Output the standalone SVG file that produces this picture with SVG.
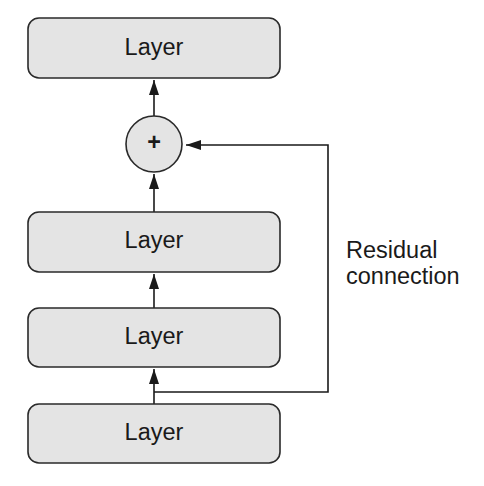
<svg xmlns="http://www.w3.org/2000/svg" width="484" height="486" viewBox="0 0 484 486">
<defs>
<style>
.box{fill:#e4e4e4;stroke:#2a2a2a;stroke-width:1.6}
.lbl{font-family:"Liberation Sans",Arial,sans-serif;font-size:23.5px;fill:#1a1a1a}
.ln{fill:none;stroke:#1a1a1a;stroke-width:1.6}
</style>
<marker id="ah2" viewBox="0 0 10 10" refX="10" refY="5" markerWidth="15" markerHeight="10" markerUnits="userSpaceOnUse" orient="auto" preserveAspectRatio="none">
<path d="M0,0 L10,5 L0,10 z" fill="#1a1a1a"/>
</marker>
</defs>
<rect width="484" height="486" fill="#ffffff"/>
<g id="connectors">
<line class="ln" x1="154" y1="116" x2="154" y2="80" marker-end="url(#ah2)"/>
<line class="ln" x1="154" y1="212" x2="154" y2="174" marker-end="url(#ah2)"/>
<line class="ln" x1="154" y1="308" x2="154" y2="274" marker-end="url(#ah2)"/>
<line class="ln" x1="154" y1="404" x2="154" y2="369" marker-end="url(#ah2)"/>
<polyline class="ln" points="154,392 328,392 328,145 186,145" marker-end="url(#ah2)"/>
</g>
<g id="layer4">
<rect class="box" x="28" y="18" width="252" height="60" rx="11"/>
<text class="lbl" x="154" y="55" text-anchor="middle">Layer</text>
</g>
<g id="add">
<circle class="box" cx="154" cy="144" r="28"/>
<text class="lbl" x="154" y="150" text-anchor="middle" font-size="19" font-weight="bold">+</text>
</g>
<g id="layer3">
<rect class="box" x="28" y="212" width="252" height="60" rx="11"/>
<text class="lbl" x="154" y="248" text-anchor="middle">Layer</text>
</g>
<g id="layer2">
<rect class="box" x="28" y="308" width="252" height="59" rx="11"/>
<text class="lbl" x="154" y="344" text-anchor="middle">Layer</text>
</g>
<g id="layer1">
<rect class="box" x="28" y="404" width="252" height="59" rx="11"/>
<text class="lbl" x="154" y="440" text-anchor="middle">Layer</text>
</g>
<g id="label">
<text class="lbl" x="346" y="258">Residual</text>
<text class="lbl" x="346" y="284">connection</text>
</g>
</svg>
